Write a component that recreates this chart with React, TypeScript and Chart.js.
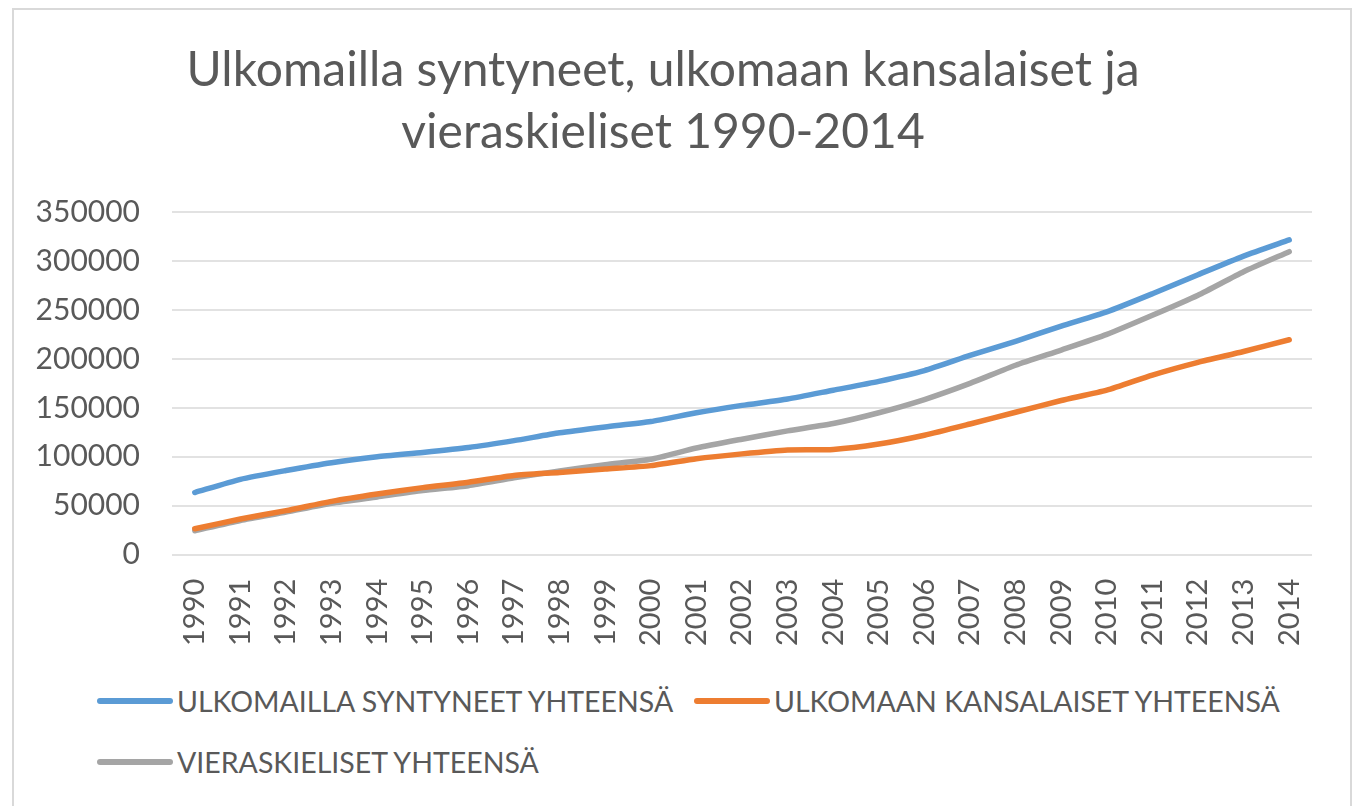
import React, { useEffect, useRef } from "react";
import { Chart, registerables } from "chart.js";

Chart.register(...registerables);

const years = [
  "1990", "1991", "1992", "1993", "1994", "1995", "1996", "1997", "1998", "1999",
  "2000", "2001", "2002", "2003", "2004", "2005", "2006", "2007", "2008", "2009",
  "2010", "2011", "2012", "2013", "2014",
];

const seriesNames = [
  "ULKOMAILLA SYNTYNEET YHTEENSÄ",
  "ULKOMAAN KANSALAISET YHTEENSÄ",
  "VIERASKIELISET YHTEENSÄ",
];

const bornAbroad = [
  63500, 77000, 86000, 94000, 100000, 104500, 109500, 116500, 124500, 130500,
  136000, 145000, 152500, 159000, 168000, 177000, 188000, 203500, 218000, 233500,
  248000, 266500, 286000, 305000, 321500,
];

const foreignCitizens = [
  26500, 36500, 45000, 54500, 62000, 68500, 74000, 81000, 84000, 87500,
  91000, 98000, 103000, 107000, 107500, 113000, 122000, 133500, 145500, 157500,
  168000, 183500, 196500, 207500, 219500,
];

const foreignLanguage = [
  24500, 35000, 43500, 52500, 59000, 65500, 70500, 78500, 85500, 92000,
  97500, 109000, 118000, 126500, 134000, 145000, 158500, 175000, 193500, 209000,
  225000, 244500, 265000, 289000, 309500,
];

const seriesColors = ["#5B9BD5", "#ED7D31", "#A5A5A5"];

const titleLines = ["Ulkomailla syntyneet, ulkomaan kansalaiset ja", "vieraskieliset 1990-2014"];

const yMin = 0;
const yMax = 350000;
const yStep = 50000;

const FONT = "Lato, 'Open Sans', sans-serif";
const TEXT = "#595959";

export default function App() {
  const ref = useRef<HTMLCanvasElement>(null);

  useEffect(() => {
    if (!ref.current) return;
    const values = [bornAbroad, foreignCitizens, foreignLanguage];
    const chart = new Chart(ref.current, {
      type: "line",
      data: {
        labels: years,
        datasets: values.map((v, i) => ({
          label: seriesNames[i],
          data: v,
          borderColor: seriesColors[i],
          backgroundColor: seriesColors[i],
          borderWidth: 5.5,
          pointRadius: 0,
          tension: 0.2,
          borderCapStyle: "round" as const,
          borderJoinStyle: "round" as const,
          fill: false,
        })),
      },
      options: {
        responsive: false,
        animation: false,
        layout: { padding: { left: 0, right: 38, top: 0, bottom: 0 } },
        plugins: {
          legend: { display: false },
          tooltip: { enabled: false },
          title: {
            display: true,
            text: titleLines,
            color: TEXT,
            font: { family: FONT, size: 48, weight: "normal", lineHeight: 62 / 48 },
            padding: { top: 30, bottom: 48 },
          },
        },
        scales: {
          x: {
            offset: true,
            grid: { display: false, drawTicks: false },
            border: { display: false },
            ticks: {
              color: TEXT,
              font: { family: FONT, size: 29 },
              minRotation: 90,
              maxRotation: 90,
              padding: 24,
              autoSkip: false,
            },
          },
          y: {
            min: yMin,
            max: yMax,
            grid: { color: "#e2e2e2", lineWidth: 2, drawTicks: false },
            border: { display: false },
            ticks: {
              stepSize: yStep,
              color: TEXT,
              font: { family: FONT, size: 30 },
              padding: 32,
              callback: (v: any) => String(v),
            },
            afterFit: (scale: any) => {
              scale.width = 158;
            },
          },
        },
      },
    });
    return () => chart.destroy();
  }, []);

  const legendItems = [
    { i: 0, left: 83, top: 690.7 },
    { i: 1, left: 680, top: 690.7 },
    { i: 2, left: 83, top: 752 },
  ];

  return (
    <div
      style={{
        position: "absolute",
        left: 12,
        top: 8,
        width: 1336,
        height: 796,
        borderTop: "2px solid #d9d9d9",
        borderLeft: "2px solid #d9d9d9",
        borderRight: "2px solid #d9d9d9",
        background: "#fff",
        overflow: "hidden",
      }}
    >
      <canvas ref={ref} width={1336} height={660} style={{ display: "block" }} />
      {legendItems.map((it) => (
        <div
          key={it.i}
          style={{
            position: "absolute",
            left: it.left,
            top: it.top,
            height: 0,
            display: "flex",
            alignItems: "center",
            whiteSpace: "nowrap",
          }}
        >
          <div
            style={{
              width: 76,
              height: 6,
              borderRadius: 3,
              background: seriesColors[it.i],
              marginRight: 4,
            }}
          />
          <span
            style={{
              fontFamily: FONT,
              fontSize: 28.5,
              color: TEXT,
              lineHeight: "30px",
            }}
          >
            {seriesNames[it.i]}
          </span>
        </div>
      ))}
    </div>
  );
}
